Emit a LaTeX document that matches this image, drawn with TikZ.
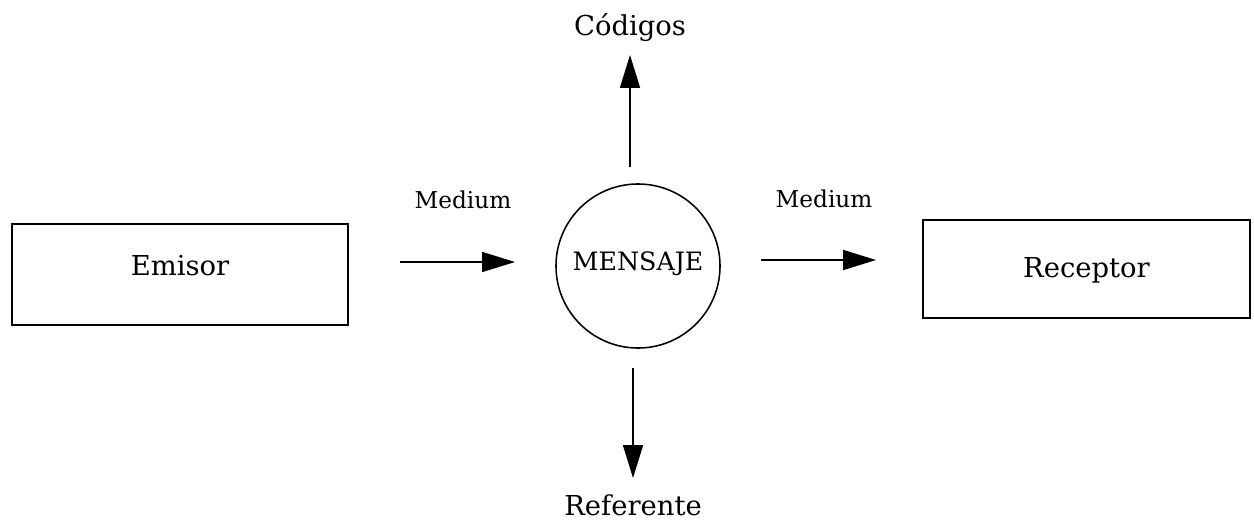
\documentclass[tikz,border=0pt]{standalone}
\usepackage{fontspec}
\setmainfont{DejaVu Serif}
\usepackage{tikz}
\usetikzlibrary{shapes,arrows}
\usetikzlibrary{arrows.meta}

\begin{document}
\begin{tikzpicture}[x=0.025cm, y=-0.025cm,
	box/.style={draw, line width=1.3pt, inner sep=0pt},
	flow/.style={line width=0.9pt, -{Triangle[length=8.2mm,width=5mm]}},
	lbl/.style={inner sep=0pt, anchor=base}]
	
	% Page frame
	\useasboundingbox (0,0) rectangle (1254,520);
	
	% Draw boxes
	\node[box, minimum width=8.4cm, minimum height=2.525cm, text height=5mm, text depth=4.6mm, font=\fontsize{19.5}{23}\selectfont] (emisor) at (180,274.5) {Emisor};
	\node[box, minimum width=8.175cm, minimum height=2.45cm, text height=5mm, text depth=1mm, font=\fontsize{19.5}{23}\selectfont] (receptor) at (1086.5,269) {Receptor};
	
	% Draw message
	\node[draw, circle, line width=1.1pt, minimum size=4.1cm, inner sep=0pt, text height=5mm, text depth=3mm, font=\fontsize{18}{22}\selectfont] (mensaje) at (638,266) {MENSAJE};
	
	% Label arrows
	\node[lbl, font=\fontsize{16.5}{20}\selectfont] (medio-a) at (463,208) {Medium};
	\node[lbl, font=\fontsize{16.5}{20}\selectfont] (medio-b) at (824,207) {Medium};
	\node[lbl, font=\fontsize{19.5}{23}\selectfont] (codigos) at (630,35) {Códigos};
	\node[lbl, font=\fontsize{19.5}{23}\selectfont] (referente) at (633,515) {Referente};
	
	% Arrow ends
	\coordinate (a1) at (400,262);
	\coordinate (a2) at (515,262);
	\coordinate (b1) at (761,260);
	\coordinate (b2) at (876,260);
	\coordinate (c1) at (630,167);
	\coordinate (c2) at (630,55);
	\coordinate (d1) at (633,368);
	\coordinate (d2) at (633,478);
	
	% Draw arrows
	\draw[flow] (a1) -- (a2);
	\draw[flow] (b1) -- (b2);
	\draw[flow] (c1) -- (c2);
	\draw[flow] (d1) -- (d2);
	
\end{tikzpicture}
\end{document}
